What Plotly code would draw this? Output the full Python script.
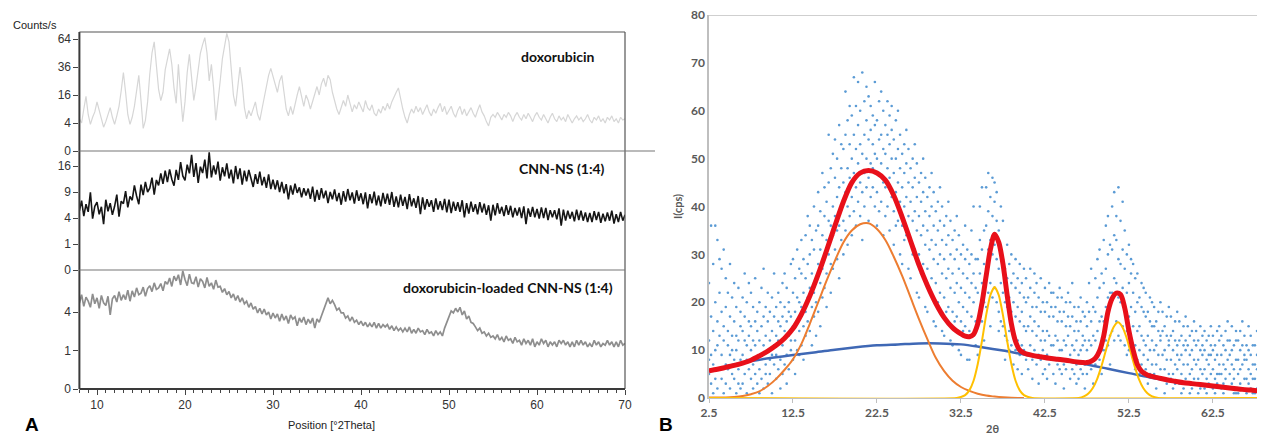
import numpy as np
import plotly.graph_objects as go

# The page places the figure 8 px from the window's top-left corner (default body margin),
# so the figure is made 8 px smaller and every pixel position is measured in window pixels.
OFF = 8
W, H = 1265 - OFF, 435 - OFF

# ---------------- Panel A : XRD patterns (Counts/s), sampled every 0.25 deg from 8 to 70 ----------------
pos_start, pos_stop, pos_step = 8.0, 70.0, 0.25

dox_counts = [
    5.3, 4.0, 9.0, 15.2, 6.8, 3.6, 5.8, 7.8, 12.3, 8.4, 4.8, 2.9, 4.4, 6.8, 9.6, 5.8,
    3.6, 6.3, 10.2, 18.5, 31.4, 17.6, 6.8, 3.6, 5.8, 10.2, 18.5, 29.2, 13.0, 2.6, 4.8, 12.3,
    30.3, 49.0, 60.8, 36.0, 19.4, 13.0, 17.6, 33.6, 43.6, 53.3, 38.4, 20.3, 11.6, 38.4, 16.0, 4.4,
    12.3, 31.4, 47.6, 25.0, 13.0, 21.2, 33.6, 49.0, 57.8, 65.6, 49.0, 25.0, 38.4, 20.3, 4.8, 11.6,
    25.0, 43.6, 57.8, 70.6, 60.8, 31.4, 16.0, 10.2, 20.3, 36.0, 23.0, 9.6, 5.3, 8.4, 6.3, 9.0,
    12.3, 6.8, 4.8, 9.0, 14.4, 22.1, 29.2, 34.8, 28.1, 21.2, 17.6, 25.0, 29.2, 17.6, 9.0, 6.3,
    10.2, 6.8, 11.6, 16.0, 21.2, 14.4, 10.2, 16.0, 13.0, 9.0, 13.0, 16.8, 21.2, 16.0, 23.0, 27.0,
    21.2, 29.2, 26.0, 17.6, 12.3, 9.0, 6.8, 10.2, 13.0, 10.2, 16.0, 11.6, 7.8, 10.9, 9.0, 12.3,
    10.2, 7.8, 13.0, 9.6, 8.4, 10.9, 7.3, 6.3, 9.0, 7.3, 10.2, 8.4, 11.6, 9.0, 12.3, 15.2,
    17.6, 20.3, 13.0, 9.0, 5.8, 4.0, 6.8, 9.0, 7.3, 10.2, 7.8, 9.6, 6.8, 8.4, 10.9, 7.8,
    6.3, 9.0, 7.3, 9.6, 11.6, 7.8, 10.2, 6.8, 8.4, 10.2, 7.3, 5.8, 8.4, 10.2, 6.8, 9.0,
    6.3, 7.8, 9.6, 7.3, 5.8, 8.4, 10.9, 7.8, 6.3, 4.4, 3.2, 5.8, 6.8, 5.8, 7.6, 6.3,
    4.9, 6.8, 5.8, 7.6, 6.3, 4.4, 6.3, 7.6, 5.8, 4.9, 6.8, 5.3, 7.3, 5.8, 4.4, 6.3,
    7.6, 5.8, 4.9, 6.8, 5.3, 4.0, 5.8, 7.3, 5.3, 4.4, 6.3, 4.9, 5.8, 4.4, 6.8, 5.3,
    4.0, 5.3, 6.3, 4.9, 5.8, 4.4, 5.3, 6.8, 4.9, 4.0, 5.8, 4.9, 6.3, 4.4, 5.3, 4.0,
    5.8, 4.9, 6.3, 4.4, 5.3, 4.0, 5.8, 4.9, 5.3,
]

cnn_counts = [
    5.2, 7.1, 4.3, 6.4, 5.0, 8.9, 3.9, 6.0, 6.8, 4.6, 5.9, 3.1, 7.3, 5.1, 6.6, 4.5,
    6.0, 8.4, 4.2, 7.0, 6.5, 9.2, 5.8, 8.0, 7.2, 10.6, 8.1, 6.4, 10.8, 8.3, 11.5, 9.0,
    9.9, 12.6, 8.4, 12.0, 10.6, 13.8, 11.0, 14.6, 11.4, 15.0, 12.2, 10.5, 14.8, 12.0, 17.2, 13.1,
    11.9, 16.4, 13.8, 19.6, 12.8, 16.9, 11.2, 15.8, 13.9, 18.0, 12.4, 20.5, 12.7, 16.2, 13.5, 17.4,
    11.8, 15.6, 13.0, 16.8, 12.4, 14.9, 11.1, 16.0, 12.2, 15.3, 10.8, 14.6, 11.6, 14.8, 12.4, 10.2,
    13.6, 11.0, 14.3, 10.6, 12.8, 10.0, 13.5, 9.7, 12.1, 9.6, 11.9, 9.0, 11.5, 8.7, 10.9, 7.4,
    10.6, 8.4, 11.0, 8.8, 10.1, 7.8, 9.9, 8.2, 9.8, 7.5, 10.3, 6.9, 9.5, 7.3, 9.9, 7.6,
    9.3, 6.6, 9.0, 7.4, 9.6, 7.0, 8.8, 6.3, 9.2, 6.9, 9.7, 7.2, 8.9, 6.5, 9.4, 7.1,
    8.7, 6.4, 8.9, 5.6, 8.5, 6.6, 9.1, 6.2, 8.2, 6.0, 8.8, 6.5, 8.6, 6.3, 9.0, 5.9,
    8.0, 5.8, 8.4, 6.1, 7.9, 5.5, 8.5, 6.0, 7.6, 5.7, 8.1, 4.6, 7.8, 5.4, 7.4, 5.9,
    7.2, 5.0, 7.6, 5.4, 7.0, 5.3, 7.5, 4.9, 7.3, 4.8, 6.9, 5.2, 6.8, 5.0, 7.2, 4.1,
    6.6, 4.7, 6.9, 5.0, 6.4, 4.6, 6.8, 4.9, 6.5, 4.5, 6.2, 3.6, 6.3, 4.4, 6.6, 4.7,
    5.9, 4.3, 6.2, 4.5, 6.1, 4.1, 5.7, 4.4, 5.8, 4.0, 6.0, 3.1, 5.6, 4.2, 5.9, 4.1,
    5.5, 3.9, 5.8, 4.0, 5.7, 3.7, 5.3, 4.1, 5.3, 3.8, 5.6, 2.9, 5.4, 3.6, 5.2, 3.9,
    5.0, 3.5, 5.4, 3.7, 5.2, 3.6, 4.9, 3.4, 4.8, 3.4, 5.1, 3.7, 5.0, 3.3, 4.7, 3.5,
    4.9, 3.6, 5.2, 3.2, 4.6, 3.4, 5.0, 3.6, 4.5,
]

dox_cnn_counts = [
    5.0, 6.0, 4.6, 5.7, 5.2, 4.5, 6.1, 4.9, 5.6, 4.4, 5.9, 5.0, 4.7, 5.8, 3.7, 5.5,
    5.9, 5.1, 6.4, 5.3, 6.0, 5.4, 6.6, 5.2, 6.5, 5.7, 6.9, 6.0, 6.2, 7.0, 5.8, 6.8,
    7.2, 6.4, 7.6, 6.7, 6.9, 7.5, 6.5, 7.8, 7.4, 8.3, 7.1, 8.6, 7.9, 8.8, 7.3, 9.4,
    8.1, 7.2, 8.9, 7.6, 7.5, 8.5, 7.0, 8.2, 7.8, 6.9, 8.4, 7.1, 7.6, 6.7, 8.0, 7.0,
    7.1, 6.3, 6.8, 6.0, 6.4, 5.6, 6.1, 5.3, 5.9, 5.1, 5.6, 4.9, 5.2, 4.5, 5.0, 4.3,
    4.6, 3.9, 4.4, 3.8, 4.3, 3.7, 4.0, 3.3, 3.9, 3.4, 3.8, 3.1, 3.8, 3.2, 3.6, 2.9,
    3.7, 3.3, 3.5, 2.7, 3.4, 3.0, 3.5, 2.8, 3.3, 2.9, 3.4, 2.5, 3.3, 3.0, 3.6, 4.3,
    5.0, 5.6, 4.9, 5.3, 4.8, 4.2, 4.4, 3.9, 3.9, 3.4, 3.6, 3.1, 3.5, 3.0, 3.2, 2.8,
    3.1, 2.7, 3.0, 2.6, 2.9, 2.6, 3.0, 2.5, 2.9, 2.5, 2.8, 2.6, 2.8, 2.4, 2.7, 2.3,
    2.6, 2.3, 2.5, 2.2, 2.5, 2.2, 2.6, 2.1, 2.4, 2.1, 2.5, 2.2, 2.3, 2.0, 2.4, 2.1,
    2.2, 1.9, 2.3, 2.0, 2.2, 1.9, 2.5, 3.0, 3.6, 4.1, 3.9, 4.4, 4.0, 4.5, 3.7, 4.1,
    3.3, 3.6, 3.0, 2.9, 2.6, 2.3, 2.5, 2.1, 2.2, 1.9, 2.1, 1.8, 1.9, 1.7, 2.0, 1.6,
    1.8, 1.5, 1.9, 1.6, 1.7, 1.4, 1.8, 1.5, 1.6, 1.3, 1.7, 1.4, 1.6, 1.3, 1.7, 1.2,
    1.5, 1.3, 1.7, 1.4, 1.6, 1.2, 1.5, 1.3, 1.5, 1.2, 1.6, 1.4, 1.6, 1.3, 1.5, 1.2,
    1.5, 1.2, 1.6, 1.3, 1.6, 1.3, 1.5, 1.2, 1.4, 1.2, 1.6, 1.3, 1.5, 1.2, 1.4, 1.3,
    1.6, 1.3, 1.5, 1.2, 1.5, 1.2, 1.6, 1.3, 1.4,
]

a_top_ticks = [0, 4, 16, 36, 64]
a_mid_ticks = [0, 1, 4, 9, 16]
a_bot_ticks = [0, 1, 4]
a_x_ticks = [10, 20, 30, 40, 50, 60, 70]
a_labels = ["doxorubicin", "CNN-NS (1:4)", "doxorubicin-loaded CNN-NS (1:4)"]

# ---------------- Panel B : measured points and fitted curves ----------------
pts_x0, pts_dx = 2.5, 0.25
pts_cols = [
    [5,12,24,8],[3,9,17,36],[7,14,28,1],[10,4,20,36],
    [2,11,16,33],[6,13,22,29],[9,4,18,27],[12,1,15,31],
    [7,3,19,25],[11,14,6,22],[2,9,17,28],[13,5,21,10],
    [4,16,8,24],[10,1,13,19],[6,12,23,3],[15,8,18,2],
    [9,3,14,21],[5,12,17,26],[1,8,11,20],[13,6,16,24],
    [4,10,15,22],[7,2,12,19],[11,16,5,25],[8,14,3,18],
    [6,12,20,1],[9,15,4,23],[2,11,17,27],[13,7,19,5],
    [10,3,16,22],[5,12,18,8],[14,1,9,21],[7,11,17,26],
    [4,13,19,9],[12,6,22,16],[8,15,2,20],[11,17,24,5],
    [14,7,19,26],[9,16,3,23],[13,20,6,18],[10,17,28,12],
    [8,15,22,29],[12,18,25,5],[16,10,21,31],[14,20,27,9],
    [11,19,26,33],[15,22,29,8],[18,13,25,34],[21,16,28,38],
    [14,23,30,36],[19,26,11,33],[22,17,31,40],[25,20,35,13],
    [18,28,36,43],[24,31,15,39],[27,34,21,47],[29,38,23,44],
    [26,33,41,19],[30,37,45,55],[28,36,48,22],[34,40,51,27],
    [31,38,46,54],[29,42,50,35],[36,44,57,25],[33,40,48,53],
    [37,45,52,30],[35,43,55,64],[40,48,58,32],[38,46,53,61],
    [42,50,59,34],[39,47,55,67],[44,52,61,36],[41,49,57,66],
    [45,53,60,38],[43,51,68,33],[47,55,62,40],[44,50,58,65],
    [46,54,63,37],[42,49,56,61],[48,53,59,44],[40,51,57,66],
    [43,50,58,36],[47,54,62,39],[41,49,55,64],[45,52,60,34],
    [44,51,57,38],[40,48,55,62],[46,53,59,35],[42,50,56,61],
    [39,47,54,32],[43,50,58,36],[37,45,52,60],[41,48,55,30],
    [36,44,51,28],[40,47,53,33],[34,42,49,56],[38,45,52,27],
    [33,41,48,25],[37,44,50,30],[31,39,46,53],[35,42,49,22],
    [30,38,45,21],[34,41,47,26],[28,36,43,50],[32,39,46,19],
    [27,35,42,18],[31,38,44,23],[25,33,40,47],[29,36,43,16],
    [24,32,39,15],[28,35,41,20],[22,30,37,44],[26,33,40,14],
    [21,29,36,13],[25,32,38,18],[19,27,34,41],[23,30,37,12],
    [18,26,33,11],[22,29,35,16],[17,24,31,38],[20,27,34,10],
    [16,23,30,9],[19,26,32,14],[15,22,29,36],[18,25,31,8],
    [14,21,28,8],[17,24,30,35],[13,20,26,40],[16,23,29,11],
    [15,22,29,9],[18,26,33,40],[16,24,31,44],[20,28,35,12],
    [19,27,36,44],[22,31,39,47],[24,33,42,15],[21,30,38,46],
    [23,32,41,45],[20,29,37,43],[18,27,35,14],[16,24,31,40],
    [15,22,29,37],[13,20,27,8],[12,19,25,32],[14,21,28,10],
    [11,18,24,30],[13,20,26,7],[10,17,23,29],[12,19,25,6],
    [9,16,22,28],[11,18,24,5],[10,15,21,27],[8,14,20,25],
    [9,15,21,6],[11,17,23,27],[8,14,19,4],[10,16,22,26],
    [7,13,19,24],[9,15,21,3],[8,12,18,25],[10,14,20,5],
    [6,12,18,23],[9,14,20,4],[7,13,17,24],[8,11,19,22],
    [5,11,17,22],[8,13,19,3],[7,12,16,21],[6,10,18,23],
    [5,10,16,21],[7,12,18,2],[6,11,15,20],[8,13,17,22],
    [4,9,15,20],[6,11,17,24],[5,10,14,19],[7,12,16,3],
    [4,9,14,19],[6,10,16,21],[5,11,13,18],[7,12,17,2],
    [5,10,15,20],[7,12,18,24],[6,11,16,27],[8,13,19,3],
    [7,12,18,25],[9,14,21,29],[8,16,23,31],[10,17,26,5],
    [10,16,24,33],[12,19,27,36],[11,21,30,38],[13,22,32,7],
    [14,22,31,40],[12,25,34,43],[16,24,33,38],[13,21,29,44],
    [12,20,28,37],[15,23,31,41],[11,19,27,35],[14,22,30,9],
    [10,17,24,32],[12,19,26,29],[9,15,22,28],[11,18,25,6],
    [8,14,20,26],[10,15,21,5],[7,13,19,24],[9,12,18,23],
    [6,11,17,22],[8,13,18,3],[5,10,16,21],[7,12,15,20],
    [5,10,15,19],[7,11,16,2],[4,9,14,18],[6,12,13,20],
    [4,9,14,18],[6,10,15,1],[3,8,13,17],[5,11,12,19],
    [4,8,13,17],[5,10,14,2],[3,7,12,16],[6,9,11,18],
    [3,8,12,16],[5,9,13,1],[2,7,11,15],[4,10,12,17],
    [3,7,11,15],[5,9,13,1],[2,6,10,14],[4,8,12,16],
    [3,7,11,14],[4,8,12,1],[2,6,10,15],[5,9,11,13],
    [2,6,10,14],[4,8,12,1],[3,7,9,13],[5,9,11,15],
    [2,6,10,13],[4,8,11,1],[3,5,9,14],[5,7,12,15],
    [2,5,9,13],[3,7,11,1],[4,6,10,14],[2,8,12,16],
    [2,5,9,12],[3,7,10,15],[4,6,11,1],[1,8,12,14],
    [1,5,8,12],[3,6,10,14],[2,7,11,16],[4,8,9,13],
    [1,4,8,11],[3,6,10,15],[2,5,9,13],[4,7,11,1],
    [1,4,7,11],[2,6,9,14],[3,5,10,12],[2,7,8,15],
    [1,4,8,12],
]

bg_x = [2.5, 5, 7.5, 10, 12.5, 15, 17.5, 20, 22.5, 25, 27.5, 30, 32.5, 35, 37.5, 40,
        42.5, 45, 47.5, 50, 52.5, 55, 57.5, 60, 62.5, 65, 68.7]
bg_y = [5.6, 6.8, 7.7, 8.4, 9.0, 9.5, 10.1, 10.6, 11.0, 11.2, 11.4, 11.4, 11.2, 10.6, 9.9, 9.1,
        8.4, 7.7, 7.0, 6.1, 5.2, 4.3, 3.6, 3.0, 2.4, 1.9, 1.3]

amorph_x = [2.5, 3.5, 4.5, 5.5, 6.5, 7.5, 8.5, 9.5, 10.5, 11.5, 12.5, 13.5, 14.5, 15.5, 16.5,
            17.5, 18.5, 19.5, 20.5, 21.5, 22.5, 23.5, 24.5, 25.5, 26.5, 27.5, 28.5, 29.5,
            30.5, 31.5, 32.5, 33.5, 34.5, 35.5, 36.5, 37.5, 38.5, 40]
amorph_y = [0.1, 0.1, 0.1, 0.2, 0.4, 0.8, 1.4, 2.5, 4.0, 5.9, 8.1, 11.3, 15.5, 20.0, 24.5,
            28.7, 32.5, 35.0, 36.3, 36.5, 35.3, 33.0, 29.5, 25.5, 21.0, 16.5, 12.3, 8.4,
            5.6, 3.6, 2.3, 1.5, 0.9, 0.5, 0.3, 0.15, 0.05, 0.0]

peak1_x = [2.5, 32.0, 32.5, 33, 33.5, 34, 34.5, 35, 35.5, 36, 36.5, 37, 37.5, 38, 38.5, 39,
           39.5, 40, 40.5, 41, 68.7]
peak1_y = [0, 0, 0.2, 0.6, 1.6, 3.6, 7.1, 11.9, 17.3, 21.5, 23.2, 21.5, 17.3, 11.9, 7.1, 3.6,
           1.6, 0.6, 0.2, 0, 0]

peak2_x = [2.5, 46.5, 47.2, 47.7, 48.2, 48.7, 49.2, 49.7, 50.2, 50.7, 51.2, 51.7, 52.2, 52.7,
           53.2, 53.7, 54.2, 54.7, 55.2, 56, 68.7]
peak2_y = [0, 0, 0.4, 1.0, 2.1, 3.9, 6.5, 9.6, 12.7, 14.9, 15.8, 14.9, 12.7, 9.6,
           6.5, 3.9, 2.1, 1.0, 0.4, 0, 0]

fit_x = [2.5, 3.5, 4.5, 5.5, 6.5, 7.5, 8.5, 9.5, 10.5, 11.5, 12.5, 13.5, 14.5, 15.5, 16.5,
         17.5, 18.5, 19.5, 20.5, 21.5, 22.5, 23.5, 24.5, 25.5, 26.5, 27.5, 28.5, 29.5, 30.5,
         31.5, 32.5, 33, 33.5, 34, 34.5, 35, 35.5, 36, 36.5, 37, 37.5, 38, 38.5, 39, 39.5, 40,
         41, 42, 43, 44, 45, 46, 47, 47.5, 48, 48.5, 49, 49.5, 50, 50.5, 51, 51.5, 52, 52.5,
         53, 53.5, 54, 54.5, 55, 56, 57, 58, 59, 60, 61, 62, 63, 64, 65, 66, 67, 68, 68.7]
fit_y = [5.7, 6.0, 6.4, 6.8, 7.3, 7.9, 8.8, 9.8, 11.0, 12.5, 14.5, 17.5, 21.3, 25.8, 30.8,
         36.0, 41.0, 45.0, 47.0, 47.5, 47.0, 45.5, 42.3, 37.8, 32.8, 27.8, 23.5, 19.8, 16.8,
         14.7, 13.4, 12.9, 12.8, 13.3, 15.5, 19.8, 25.5, 31.0, 34.2, 32.5, 28.0, 21.5, 15.5,
         11.8, 10.0, 9.4, 8.9, 8.6, 8.3, 8.1, 7.9, 7.6, 7.4, 7.4, 7.7, 8.3, 9.8, 13.0, 18.0,
         20.8, 21.9, 21.6, 18.8, 14.0, 10.0, 7.0, 5.6, 5.0, 4.6, 4.2, 3.8, 3.5, 3.2, 3.0, 2.8,
         2.6, 2.4, 2.2, 2.0, 1.8, 1.65, 1.5, 1.4]

b_x_ticks = [2.5, 12.5, 22.5, 32.5, 42.5, 52.5, 62.5]
b_y_ticks = [0, 10, 20, 30, 40, 50, 60, 70, 80]


# ---------------- helpers (window pixel -> paper fraction) ----------------
def px(x):
    return (x - OFF) / W


def py(y):
    return 1 - (y - OFF) / H


pos = np.arange(pos_start, pos_stop + 1e-9, pos_step)

fig = go.Figure()

# Panel A traces (square-root intensity scale)
fig.add_trace(go.Scatter(x=pos, y=np.sqrt(dox_counts), mode="lines",
                         line=dict(color="#d6d6d6", width=1.2), xaxis="x3", yaxis="y3",
                         showlegend=False, hoverinfo="skip"))
fig.add_trace(go.Scatter(x=pos, y=np.sqrt(cnn_counts), mode="lines",
                         line=dict(color="#151515", width=1.6), xaxis="x2", yaxis="y2",
                         showlegend=False, hoverinfo="skip"))
fig.add_trace(go.Scatter(x=pos, y=np.sqrt(dox_cnn_counts), mode="lines",
                         line=dict(color="#8e8e8e", width=1.7), xaxis="x", yaxis="y",
                         showlegend=False, hoverinfo="skip"))

# Panel B traces
sx, sy = [], []
for i, col in enumerate(pts_cols):
    for v in col:
        sx.append(pts_x0 + pts_dx * i)
        sy.append(v)
fig.add_trace(go.Scatter(x=sx, y=sy, mode="markers",
                         marker=dict(color="#5B9BD5", size=2.6, line=dict(width=0)),
                         xaxis="x4", yaxis="y4", showlegend=False, hoverinfo="skip"))
fig.add_trace(go.Scatter(x=bg_x, y=bg_y, mode="lines", line=dict(color="#3F68B5", width=2.5, shape="spline"),
                         xaxis="x4", yaxis="y4", showlegend=False, hoverinfo="skip"))
fig.add_trace(go.Scatter(x=amorph_x, y=amorph_y, mode="lines", line=dict(color="#ED7D31", width=2, shape="spline"),
                         xaxis="x4", yaxis="y4", showlegend=False, hoverinfo="skip"))
fig.add_trace(go.Scatter(x=peak1_x, y=peak1_y, mode="lines", line=dict(color="#FFC000", width=2, shape="spline", smoothing=0.6),
                         xaxis="x4", yaxis="y4", showlegend=False, hoverinfo="skip"))
fig.add_trace(go.Scatter(x=peak2_x, y=peak2_y, mode="lines", line=dict(color="#FFC000", width=2, shape="spline", smoothing=0.6),
                         xaxis="x4", yaxis="y4", showlegend=False, hoverinfo="skip"))
fig.add_trace(go.Scatter(x=fit_x, y=fit_y, mode="lines", line=dict(color="#E8101A", width=5, shape="spline", smoothing=0.8),
                         xaxis="x4", yaxis="y4", showlegend=False, hoverinfo="skip"))

a_font = dict(family="Liberation Sans, Arial", size=12, color="#333333")
b_font = dict(family="Lato", size=12, color="#595959", weight="bold")

a_x_dom = [px(79.4), px(625)]
fig.update_layout(
    width=W, height=H, autosize=False,
    margin=dict(l=0, r=0, t=0, b=0, autoexpand=False),
    paper_bgcolor="white", plot_bgcolor="rgba(0,0,0,0)",
    xaxis=dict(domain=a_x_dom, range=[8, 70], anchor="y", tickvals=a_x_ticks, automargin=False,
               ticks="outside", ticklen=5, tickcolor="#444", tickwidth=1,
               minor=dict(dtick=1, ticks="outside", ticklen=3, tickcolor="#444"),
               showgrid=False, zeroline=False, showline=False, tickfont=a_font),
    xaxis2=dict(domain=a_x_dom, range=[8, 70], anchor="y2", matches="x", visible=False, automargin=False),
    xaxis3=dict(domain=a_x_dom, range=[8, 70], anchor="y3", matches="x", visible=False, automargin=False),
    yaxis=dict(domain=[py(389), py(270)], range=[0, 119 / 38.5], anchor="x", automargin=False,
               tickvals=np.sqrt(a_bot_ticks), ticktext=[str(t) for t in a_bot_ticks],
               ticks="outside", ticklen=5, tickcolor="#444", showgrid=False, zeroline=False,
               showline=False, tickfont=a_font),
    yaxis2=dict(domain=[py(270), py(151)], range=[0, 119 / 26.0], anchor="x2", automargin=False,
                tickvals=np.sqrt(a_mid_ticks), ticktext=[str(t) for t in a_mid_ticks],
                ticks="outside", ticklen=5, tickcolor="#444", showgrid=False, zeroline=False,
                showline=False, tickfont=a_font),
    yaxis3=dict(domain=[py(151), py(32)], range=[0, 119 / 14.0], anchor="x3", automargin=False,
                tickvals=np.sqrt(a_top_ticks), ticktext=[str(t) for t in a_top_ticks],
                ticks="outside", ticklen=5, tickcolor="#444", showgrid=False, zeroline=False,
                showline=False, tickfont=a_font),
    xaxis4=dict(domain=[px(709), 1.0], range=[2.5, 68.7], anchor="y4", tickvals=b_x_ticks,
                automargin=False, ticklabeloverflow="allow",
                ticktext=[f"{t:.1f}" for t in b_x_ticks], ticks="outside", ticklen=4,
                tickcolor="#BFBFBF", showgrid=False, zeroline=False, showline=True,
                linecolor="#BFBFBF", linewidth=1, tickfont=b_font),
    yaxis4=dict(domain=[py(398), py(15)], range=[0, 80], anchor="x4", tickvals=b_y_ticks,
                automargin=False, ticklabeloverflow="allow",
                ticks="", showgrid=False, zeroline=False, showline=True,
                linecolor="#BFBFBF", linewidth=1.5, tickfont=b_font),
)

# frame of panel A
frame = "#555555"
shapes = [
    dict(type="line", xref="paper", yref="paper", x0=px(79.4), x1=px(79.4), y0=py(32), y1=py(389),
         line=dict(color="#3a3a3a", width=2)),
    dict(type="line", xref="paper", yref="paper", x0=px(79.4), x1=px(625), y0=py(32), y1=py(32),
         line=dict(color=frame, width=1.2)),
    dict(type="line", xref="paper", yref="paper", x0=px(625), x1=px(625), y0=py(32), y1=py(389),
         line=dict(color=frame, width=1.2)),
    dict(type="line", xref="paper", yref="paper", x0=px(79.4), x1=px(625), y0=py(389), y1=py(389),
         line=dict(color="#3a3a3a", width=2)),
    dict(type="line", xref="paper", yref="paper", x0=px(79.4), x1=px(655), y0=py(151), y1=py(151),
         line=dict(color="#777777", width=1.2)),
    dict(type="line", xref="paper", yref="paper", x0=px(79.4), x1=px(625), y0=py(270), y1=py(270),
         line=dict(color="#777777", width=1.2)),
    dict(type="line", xref="x4", yref="y4", x0=2.5, x1=68.7, y0=80, y1=80,
         line=dict(color="#BFBFBF", width=1.5)),
]
fig.update_layout(shapes=shapes)

lab_font = dict(family="Lato", size=14, color="#111111", weight="bold")
ann = [
    dict(text="Counts/s", x=px(11), y=py(25), xanchor="left", yanchor="middle",
         font=dict(family="Liberation Sans, Arial", size=11, color="#222")),
    dict(text=a_labels[0], x=px(597), y=py(56), xanchor="right", yanchor="middle", font=lab_font),
    dict(text=a_labels[1], x=px(607), y=py(168), xanchor="right", yanchor="middle", font=lab_font),
    dict(text=a_labels[2], x=px(615), y=py(287), xanchor="right", yanchor="middle", font=lab_font),
    dict(text="Position [°2Theta]", x=px(331), y=py(425), xanchor="center", yanchor="middle",
         font=dict(family="Liberation Sans, Arial", size=11, color="#222")),
    dict(text="A", x=px(32), y=py(424), xanchor="center", yanchor="middle",
         font=dict(family="Liberation Sans, Arial", size=19, color="#000", weight="bold")),
    dict(text="B", x=px(666), y=py(424), xanchor="center", yanchor="middle",
         font=dict(family="Liberation Sans, Arial", size=19, color="#000", weight="bold")),
    dict(text="2θ", x=px(993), y=py(428), xanchor="center", yanchor="middle",
         font=dict(family="Lato", size=11, color="#595959", weight="bold")),
    dict(text="I(cps)", x=px(677), y=py(206), xanchor="center", yanchor="middle", textangle=-90,
         font=dict(family="Lato", size=11, color="#595959", weight="bold")),
]
for a in ann:
    a.update(xref="paper", yref="paper", showarrow=False)
fig.update_layout(annotations=ann)

fig.write_html("out.html")
